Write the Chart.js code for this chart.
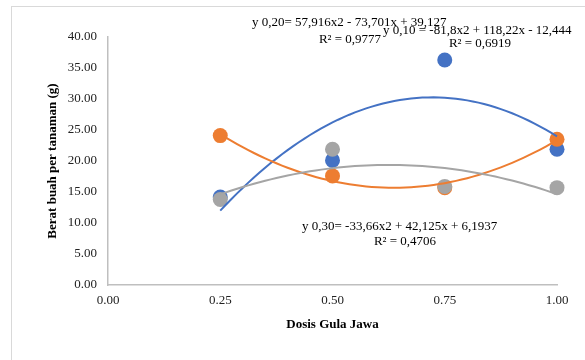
<!DOCTYPE html>
<html>
<head>
<meta charset="utf-8">
<script src="https://cdn.jsdelivr.net/npm/chart.js@4/dist/chart.umd.min.js"></script>
<style>
  html, body { margin: 0; padding: 0; background: #fff; }
  #wrap { position: relative; width: 585px; height: 360px; overflow: hidden; }
  #frame { position: absolute; left: 11px; top: 6px; width: 700px; height: 500px;
           border-left: 1.5px solid #d9d9d9; border-top: 1.5px solid #d9d9d9; }
  canvas { position: absolute; left: 0; top: 0; }
</style>
</head>
<body>
<div id="wrap">
  <div id="frame"></div>
  <canvas id="chart" width="585" height="360"></canvas>
</div>
<script>
// dosis gula jawa (x) and berat buah per tanaman (y)
const doses = [0.25, 0.50, 0.75, 1.00];
const blueValues = [14.2, 20.1, 36.3, 21.9];   // series 0,10
const orangeValues = [24.1, 17.6, 15.7, 23.5]; // series 0,20
const grayValues = [13.8, 21.9, 15.9, 15.7];   // series 0,30

// polynomial trendline coefficients [a, b, c] for a*x^2 + b*x + c, as printed
const blueTrend = [-81.8, 118.22, -12.444];
const orangeTrend = [57.916, -73.701, 39.127];
const grayTrend = [-33.66, 42.125, 6.1937];

const blueLabel = ['y 0,10 = -81,8x2 + 118,22x - 12,444', 'R² = 0,6919'];
const orangeLabel = ['y 0,20= 57,916x2 - 73,701x + 39,127', 'R² = 0,9777'];
const grayLabel = ['y 0,30= -33,66x2 + 42,125x + 6,1937', 'R² = 0,4706'];

const FONT = 'Liberation Serif, Times New Roman, serif';
const toPts = vals => doses.map((d, i) => ({ x: d, y: vals[i] }));

/**
 * Draws the quadratic trendlines between the first and last dose,
 * plus the equation labels (label positions in canvas pixels)
 */
function trendlinePlugin(trends) {
    return {
        id: 'trendlines',
        afterDatasetsDraw(chart) {
            const { ctx, scales } = chart;
            ctx.save();
            trends.forEach(t => {
                const [a, b, c] = t.coef;
                ctx.beginPath();
                ctx.strokeStyle = t.color;
                ctx.lineWidth = 2;
                const x0 = doses[0], x1 = doses[doses.length - 1];
                for (let s = 0; s <= 60; s++) {
                    const x = x0 + (x1 - x0) * s / 60;
                    const y = a * x * x + b * x + c;
                    const px = scales.x.getPixelForValue(x);
                    const py = scales.y.getPixelForValue(y);
                    if (s === 0) ctx.moveTo(px, py); else ctx.lineTo(px, py);
                }
                ctx.stroke();
            });
            ctx.fillStyle = '#000';
            ctx.font = '13px ' + FONT;
            ctx.textBaseline = 'middle';
            trends.forEach(t => {
                ctx.textAlign = 'left';
                ctx.fillText(t.text[0], t.pos[0], t.pos[1]);
                ctx.textAlign = 'center';
                ctx.fillText(t.text[1], t.pos[2], t.pos[3]);
            });
            ctx.restore();
        }
    };
}

const pointStyle = { pointRadius: 7.5, pointHoverRadius: 7.5, borderWidth: 0, clip: false };

new Chart(document.getElementById('chart').getContext('2d'), {
    type: 'scatter',
    data: {
        datasets: [
            // lower order is drawn on top: gray over orange over blue
            { data: toPts(blueValues), backgroundColor: '#4472C4', order: 2, ...pointStyle },
            { data: toPts(orangeValues), backgroundColor: '#ED7D31', order: 1, ...pointStyle },
            { data: toPts(grayValues), backgroundColor: '#A5A5A5', order: 0, ...pointStyle }
        ]
    },
    options: {
        responsive: false,
        animation: false,
        layout: { padding: { left: 12, right: 28, top: 37, bottom: 0 } },
        plugins: { legend: { display: false }, tooltip: { enabled: false } },
        scales: {
            x: {
                type: 'linear', min: 0, max: 1,
                afterFit: s => { s.height = 75; },
                ticks: {
                    stepSize: 0.25, padding: 8, color: '#222',
                    font: { family: FONT, size: 13 },
                    callback: v => Number(v).toFixed(2)
                },
                grid: { display: false, drawTicks: false },
                border: { display: true, color: '#bfbfbf', width: 1.5 },
                title: {
                    display: true, text: 'Dosis Gula Jawa', color: '#000',
                    font: { family: FONT, size: 13, weight: 'bold' },
                    padding: { top: 0, bottom: 28 }, align: 'center'
                }
            },
            y: {
                min: 0, max: 40,
                afterFit: s => { s.width = 96; },
                ticks: {
                    stepSize: 5, padding: 11, color: '#222',
                    font: { family: FONT, size: 13 },
                    callback: v => Number(v).toFixed(2)
                },
                grid: { display: false, drawTicks: false },
                border: { display: true, color: '#bfbfbf', width: 1.5 },
                title: {
                    display: true, text: 'Berat buah per tanaman (g)', color: '#000',
                    font: { family: FONT, size: 13, weight: 'bold' },
                    padding: { top: 33, bottom: 0 }
                }
            }
        }
    },
    plugins: [trendlinePlugin([
        { coef: blueTrend, color: '#4472C4', text: blueLabel, pos: [383, 31, 480, 44] },
        { coef: orangeTrend, color: '#ED7D31', text: orangeLabel, pos: [252, 23, 350, 40] },
        { coef: grayTrend, color: '#A5A5A5', text: grayLabel, pos: [302, 227, 405, 242] }
    ])]
});
</script>
</body>
</html>
